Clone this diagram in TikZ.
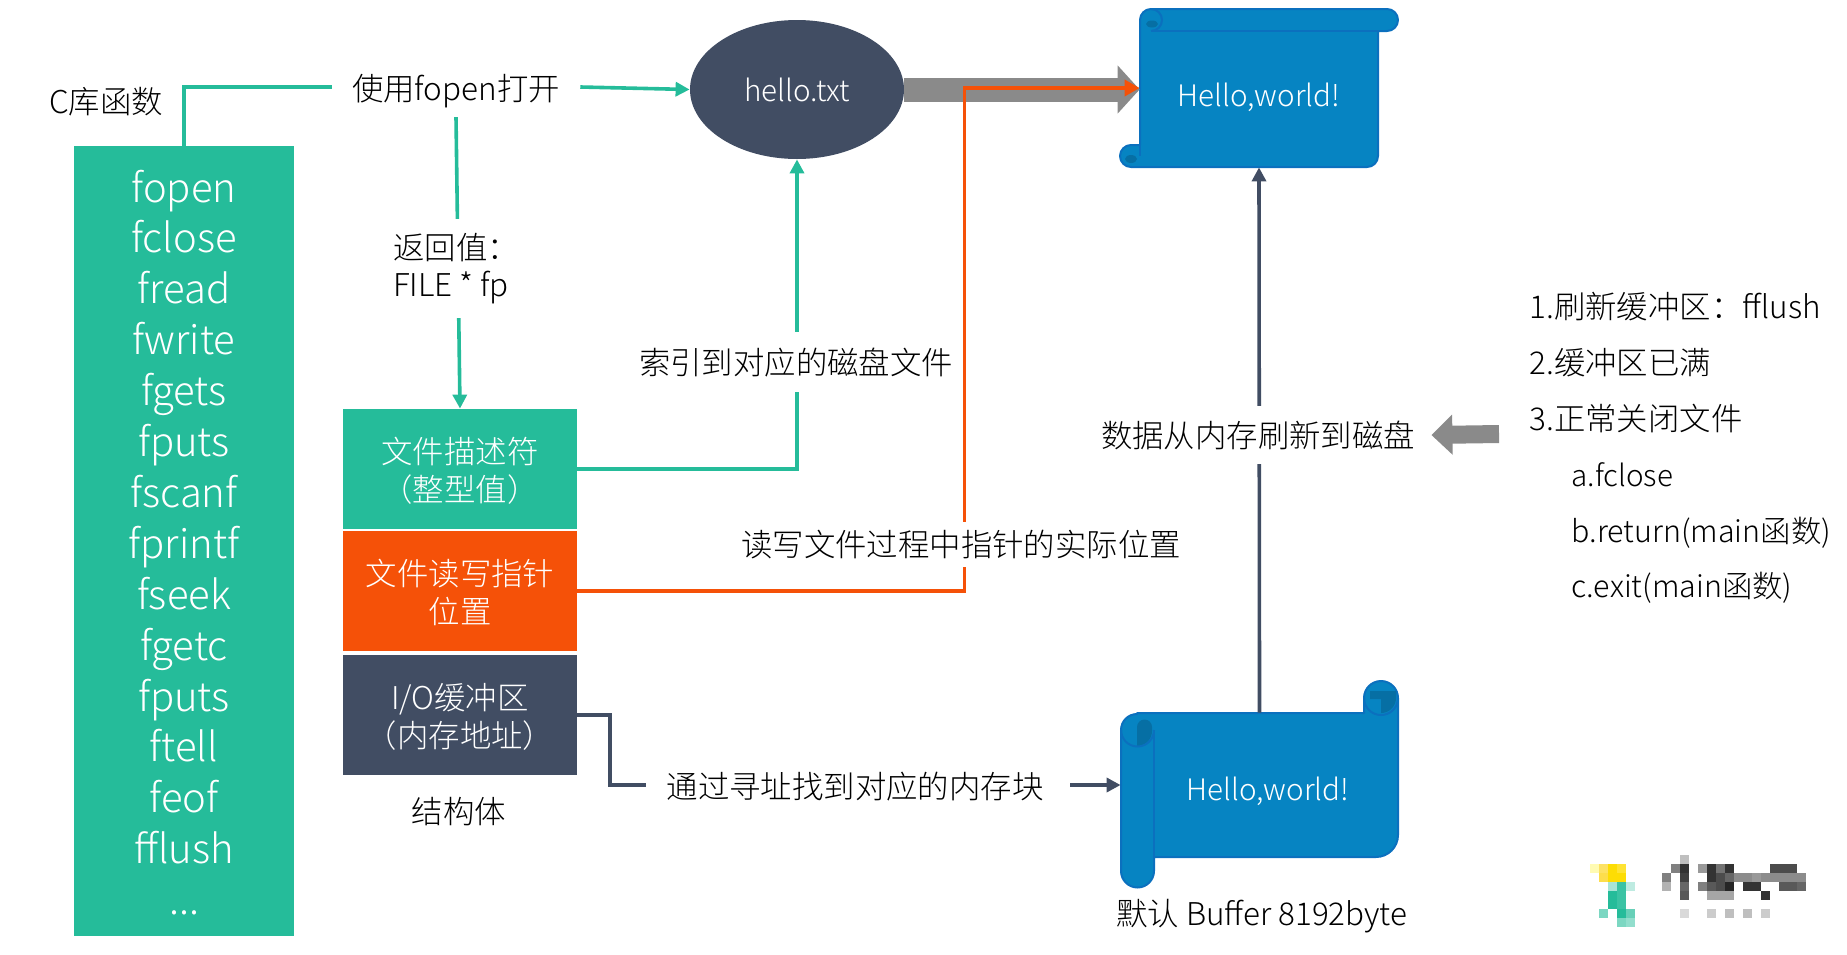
\documentclass[tikz,border=0pt]{standalone}
\usepackage{fontspec}
\setmainfont{Noto Sans CJK SC Light}
\usetikzlibrary{arrows.meta,shapes.geometric}

\definecolor{tealcol}{HTML}{25BC9A}
\definecolor{slatecol}{HTML}{414D63}
\definecolor{orangecol}{HTML}{F55108}
\definecolor{graycol}{HTML}{8A8A8A}
\definecolor{scrollcol}{HTML}{0684C2}
\definecolor{scrolledge}{HTML}{0B70BE}
\definecolor{scrollcurl}{HTML}{066FA4}

\newcommand{\lowtext}[1]{\raisebox{-1.2pt}[.85em][.15em]{#1}}

\tikzset{
	every node/.style={font=\fontsize{15.7}{18.8}\selectfont,text=black,align=center},
	latintext/.style={font=\fontsize{14.8}{18}\selectfont},
	funcname/.style={anchor=base,text=white,font=\fontsize{20}{24}\selectfont},
	conlabel/.style={inner xsep=10pt,inner ysep=7pt},
	whitelabel/.style={conlabel,fill=white},
	structbox/.style={minimum width=117pt,minimum height=60pt,inner sep=0pt,text=white},
	teal line/.style={draw=tealcol,line width=1.8pt},
	slate line/.style={draw=slatecol,line width=1.8pt},
	orange line/.style={draw=orangecol,line width=1.8pt},
	small tip/.style={-{Triangle[length=7pt,width=7pt]}},
	fat arrow/.style={draw=graycol,line width=12pt,-{Triangle[length=11pt,width=23.5pt]}},
	scroll/.style={fill=scrollcol,draw=scrolledge,line width=1pt,line join=round},
	rim/.style={draw=scrolledge,line width=1pt},
	listitem/.style={anchor=base west,inner sep=0pt},
}

\begin{document}
\begin{tikzpicture}[x=.5pt,y=-.5pt]
	\useasboundingbox (0,0) rectangle (1847,954);

	% function column
	\node[fill=tealcol,minimum width=110pt,minimum height=395pt,inner sep=0pt] (funcs) at (184,541) {};
	\foreach \fname [count=\i] in {fopen,fclose,fread,fwrite,fgets,fputs,fscanf,fprintf,fseek,fgetc,fputs,ftell,feof,fflush}
		\node[funcname] (func\i) at (184,{202+(\i-1)*50.9}) {\fname};
	\node[funcname] (funcdots) at (184,914) {...};
	\node (clib) at (106,102) {C库函数};

	% file structure
	\node[structbox,fill=tealcol] (fd) at (460,469) {\lowtext{文件描述符}\\\lowtext{（整型值）}};
	\node[structbox,fill=orangecol] (ptr) at (460,591) {\lowtext{文件读写指针}\\\lowtext{位置}};
	\node[structbox,fill=slatecol] (iobuf) at (460,715) {\lowtext{I/O缓冲区}\\\lowtext{（内存地址）}};
	\node (structname) at (459,812) {结构体};

	\node[conlabel] (openlabel) at (456,87) {\lowtext{使用fopen打开}};
	\node[ellipse,latintext,fill=slatecol,text=white,minimum width=107pt,minimum height=69.5pt,inner sep=0pt] (hello) at (797,89.5) {hello.txt};

	% disk scroll
	\path[scroll] (1151,9) -- (1387,9) arc (-90:90:11) -- (1378,31) -- (1378,156) arc (0:90:11) -- (1131,167)
		arc (90:270:11) -- (1140,145) -- (1140,20) arc (180:270:11) -- cycle;
	\draw[rim] (1151,31) -- (1378,31);
	\fill[scrollcurl] (1152,24) ellipse (6 and 3.5);
	\draw[rim] (1151,31) arc (90:-90:11);
	\fill[scrollcurl] (1131,159) ellipse (6 and 4);
	\draw[rim] (1140,145) -- (1140,156);

	% buffer scroll
	\path[scroll] (1137,713) -- (1364,713) -- (1364,698) arc (180:360:17) -- (1398,835) arc (0:90:22) -- (1154,857)
		-- (1154,871) arc (0:180:16.5) -- (1121,730) arc (180:270:16) -- cycle;
	\draw[rim] (1154,730) -- (1154,857);
	\fill[scrollcurl] (1381,691) -- (1396,691) -- (1396,698) arc (0:90:15) -- (1381,699) -- (1370,699) -- (1370,691) -- cycle;
	\draw[rim] (1364,698) arc (180:0:17);
	\fill[scrollcurl] (1137,745) -- (1137,727) arc (180:360:7.5) -- (1152,731) arc (0:90:15) -- cycle;
	\draw[rim] (1121,730) arc (180:0:16.5);

	\node[minimum width=119pt,minimum height=79pt,inner sep=0pt] (disk) at (1259,88) {};
	\node[latintext,text=white] (disktext) at (1259,97.5) {Hello,world!};
	\node[minimum width=138.5pt,minimum height=72pt,inner sep=0pt] (buf) at (1259.5,785) {};
	\node[latintext,text=white] (buftext) at (1268,791.5) {Hello,world!};
	\node (bufsize) at (1262,916.5) {默认 Buffer 8192byte};

	% connectors
	\draw[teal line] (funcs.north) |- (openlabel.west);
	\draw[teal line,small tip] (openlabel.east) -- (hello.west);
	\draw[teal line,small tip] (openlabel.south) -- (fd.north);
	\node[whitelabel,align=left] (retlabel) at (456,268.5) {返回值：\\FILE * fp};
	\draw[teal line,small tip] (fd.east) -| (hello.south);
	\node[whitelabel,inner ysep=7.5pt] (indexlabel) at (796,362) {索引到对应的磁盘文件};

	\draw[fat arrow] (hello.east) -- (hello.east -| disk.west);
	\coordinate (ptrbend) at (964.5,88);
	\draw[orange line,-{Triangle[length=7.5pt,width=8pt]}] (ptr.east) -| (ptrbend) -- (disk.west);
	\node[whitelabel,inner ysep=4pt] (ptrlabel) at (961,544.5) {读写文件过程中指针的实际位置};

	\coordinate (iobend) at (610,785);
	\coordinate (seekout) at (1070,785);
	\node[conlabel] (seeklabel) at (855,785) {\lowtext{通过寻址找到对应的内存块}};
	\draw[slate line] (iobuf.east) -| (iobend) -- (seeklabel.west);
	\draw[slate line,small tip] (seekout) -- (buf.west);

	\draw[slate line,small tip] (buf.north) -- (disk.south);
	\node[whitelabel,inner xsep=8pt,inner ysep=7.5pt] (flushlabel) at (1258,435) {数据从内存刷新到磁盘};

	% flush conditions
	\node[listitem] (cond1) at (1529,318.2) {1.刷新缓冲区：fflush};
	\node[listitem] (cond2) at (1529,374.2) {2.缓冲区已满};
	\node[listitem] (cond3) at (1529,430.2) {3.正常关闭文件};
	\node[listitem,latintext] (conda) at (1571,486.2) {a.fclose};
	\node[listitem,font=\fontsize{15.2}{18}\selectfont] (condb) at (1571,542.2) {b.return(main函数)};
	\node[listitem,font=\fontsize{15.2}{18}\selectfont] (condc) at (1571,597.2) {c.exit(main函数)};
	\coordinate (condstart) at (1499,434);
	\draw[draw=graycol,line width=9pt,-{Triangle[length=10.5pt,width=19.5pt]}] (condstart) -- (flushlabel.east);

	% corner mark
	\foreach \px/\py/\pcol in {
		1590/864/yellow!30,1599/864/yellow!70!orange!60,1608/864/yellow!80!orange,1617/864/yellow!80!orange!80,
		1599/873/yellow!70!orange!70,1608/873/yellow!80!orange,1617/873/yellow!80!orange,
		1608/882/tealcol!40,1617/882/tealcol!90,1626/882/tealcol!30,
		1608/891/tealcol,1617/891/tealcol!90,1608/900/tealcol,1617/900/tealcol!90,
		1599/909/tealcol!60,1617/909/tealcol,1626/909/tealcol!70,1617/918/tealcol!60,1626/918/tealcol!50,
		1680/855/black!25,1671/864/black!50,1680/864/black!80,1698/864/black!40,1707/864/black!80,1716/864/black!55,1725/864/black!80,
		1662/873/black!50,1680/873/black!75,1707/873/black!80,1716/873/black!70,1725/873/black!60,1734/873/black!45,1743/873/black!45,1752/873/black!40,1761/873/black!45,1770/873/black!45,1779/873/black!45,1788/873/black!45,1797/873/black!45,
		1662/882/black!30,1680/882/black!60,1698/882/black!50,1707/882/black!65,1716/882/black!70,1725/882/black!85,1743/882/black!80,1752/882/black!80,1779/882/black!65,1788/882/black!65,1797/882/black!60,
		1680/891/black!65,1707/891/black!35,1716/891/black!35,1725/891/black!35,1761/891/black!80,
		1770/864/black!70,1779/864/black!70,1788/864/black!70,
		1680/909/black!15,1707/909/black!20,1725/909/black!25,1743/909/black!25,1761/909/black!20
	}
		\fill[\pcol] (\px,\py) rectangle ++(9,9);
\end{tikzpicture}
\end{document}
